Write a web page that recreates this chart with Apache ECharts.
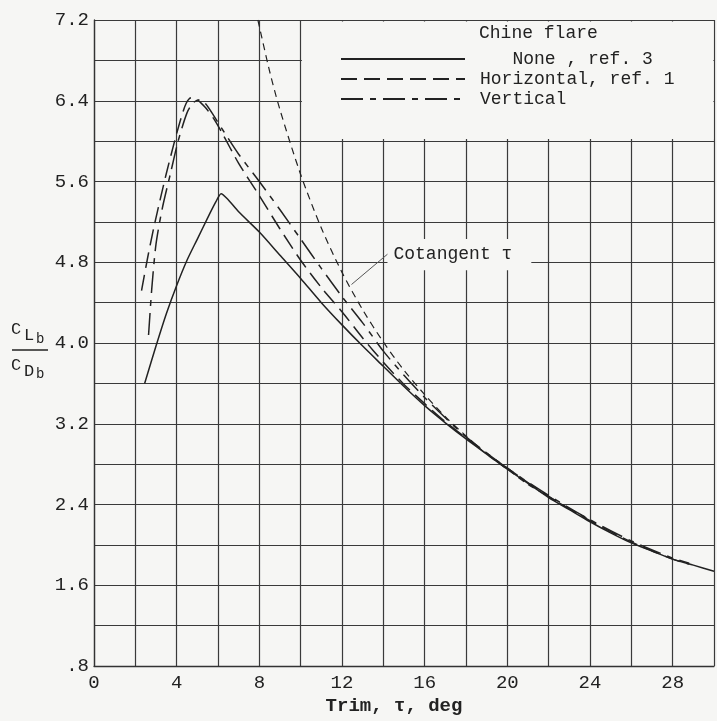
<!DOCTYPE html>
<html>
<head>
<meta charset="utf-8">
<script src="https://cdn.jsdelivr.net/npm/echarts@6/dist/echarts.min.js"></script>
<style>
  html, body { margin: 0; padding: 0; background: #f6f6f4; }
  #chart { width: 717px; height: 721px; }
</style>
</head>
<body>
<div id="chart"></div>
<script>
// values, [trim deg, CL/CD]
var noneRef3 = [[2.45,3.6],[3.0,3.97],[3.5,4.29],[4.0,4.57],[4.5,4.82],[5.0,5.03],[5.5,5.24],[5.9,5.4],[6.15,5.48],
  [6.45,5.43],[7,5.3],[8,5.1],[9,4.87],[10,4.64],[11,4.4],[12,4.18],[13,3.97],[14,3.77],[15,3.57],[16,3.38],
  [17,3.21],[18,3.05],[19,2.9],[20,2.75],[21,2.61],[22,2.47],[23,2.35],[24,2.23],[25,2.12],[26,2.02],[27,1.94],
  [28,1.86],[29,1.8],[30,1.74]];
var horizRef1 = [[2.3,4.52],[2.6,4.85],[2.9,5.15],[3.2,5.42],[3.5,5.68],[3.9,6.0],[4.2,6.22],[4.45,6.37],[4.7,6.43],
  [5.0,6.41],[5.4,6.33],[5.8,6.22],[6.2,6.08],[7,5.78],[8,5.46],[9,5.13],[10,4.82],[11,4.55],[12,4.31],[13,4.05],
  [14,3.81],[15,3.59],[16,3.4],[17,3.22],[18,3.06],[20,2.76],[22,2.48],[24,2.24],[26,2.03],[28,1.86],[28.8,1.81]];
var vertical = [[2.64,4.08],[2.8,4.55],[3.0,4.98],[3.3,5.33],[3.7,5.68],[4.07,6.0],[4.5,6.28],[4.8,6.38],[5.1,6.41],
  [5.4,6.37],[5.8,6.25],[6.2,6.12],[7,5.87],[8,5.6],[9,5.32],[10,5.03],[11,4.74],[12,4.46],[13,4.2],[14,3.92],
  [15,3.68],[16,3.46],[17,3.26],[18,3.07],[20,2.76],[22,2.49],[24,2.25],[26,2.04],[28,1.87],[28.8,1.82]];
var cotangent = [[7.93,7.2],[8.5,6.69],[9,6.31],[10,5.67],[11,5.14],[12,4.7],[13,4.33],[14,4.01],[15,3.73],
  [16,3.49],[17,3.27],[18,3.08],[19,2.9],[20,2.75],[21,2.6],[22,2.48],[23,2.36],[24,2.25]];

var names = ['   None , ref. 3', 'Horizontal, ref. 1', 'Vertical'];

var mono = 'Liberation Mono';
var ink = '#222';
var bg = '#f6f6f4';

var chart = echarts.init(document.getElementById('chart'));

var option = {
  backgroundColor: bg,
  animation: false,
  grid: { left: 94, right: 2, top: 20, bottom: 43 },
  title: {
    text: 'Chine flare', left: 479, top: 24, padding: 0,
    textStyle: { fontFamily: mono, fontSize: 18, fontWeight: 'normal', color: ink }
  },
  legend: {
    data: names, orient: 'vertical', left: 340, top: 49,
    itemWidth: 124, itemHeight: 20, itemGap: 0, padding: 0,
    itemStyle: { opacity: 0, borderWidth: 0 },
    textStyle: { fontFamily: mono, fontSize: 18, color: ink, lineHeight: 20, padding: [0, 0, 0, 10] }
  },
  xAxis: {
    type: 'value', min: 0, max: 30, interval: 2,
    name: 'Trim, τ, deg', nameLocation: 'middle', nameGap: 23,
    nameTextStyle: { fontFamily: mono, fontSize: 19, fontWeight: 'bold', color: ink, padding: [0, 20, 0, 0] },
    axisLine: { show: true, lineStyle: { color: '#333', width: 1.3 } },
    axisTick: { show: false },
    axisLabel: {
      margin: 7, fontFamily: mono, fontSize: 19, color: ink,
      formatter: function (v) { return (v % 4 === 0 && v < 30) ? String(v) : ''; }
    },
    splitLine: { show: true, lineStyle: { color: '#3a3a3a', width: 1.2 } }
  },
  yAxis: {
    type: 'value', min: 0.8, max: 7.2, interval: 0.4,
    axisLine: { show: true, lineStyle: { color: '#333', width: 1.3 } },
    axisTick: { show: false },
    axisLabel: {
      margin: 5, fontFamily: mono, fontSize: 19, color: ink,
      formatter: function (v) {
        var t = Math.round(v * 10);
        if (t % 8 !== 0) return '';
        if (t === 8) return '.8';
        return (t / 10).toFixed(1);
      }
    },
    splitLine: { show: true, lineStyle: { color: '#3a3a3a', width: 1.2 } }
  },
  graphic: [
    // CL_b over CD_b
    { type: 'text', left: 11, top: 321, style: { text: 'C', font: '17px ' + mono, fill: ink } },
    { type: 'text', left: 24, top: 327, style: { text: 'L', font: '17px ' + mono, fill: ink } },
    { type: 'text', left: 36, top: 332, style: { text: 'b', font: '14px ' + mono, fill: ink } },
    { type: 'line', shape: { x1: 12, y1: 350, x2: 48, y2: 350 }, style: { stroke: ink, lineWidth: 1.5 } },
    { type: 'text', left: 11, top: 357, style: { text: 'C', font: '17px ' + mono, fill: ink } },
    { type: 'text', left: 24, top: 363, style: { text: 'D', font: '17px ' + mono, fill: ink } },
    { type: 'text', left: 36, top: 367, style: { text: 'b', font: '14px ' + mono, fill: ink } }
  ],
  series: [
    {
      name: names[0], type: 'line', data: noneRef3, symbol: 'none', smooth: 0.25,
      lineStyle: { color: ink, width: 1.5, type: 'solid' }, itemStyle: { color: ink }
    },
    {
      name: names[1], type: 'line', data: horizRef1, symbol: 'none', smooth: 0.25,
      lineStyle: { color: ink, width: 1.5, type: [16, 7] }, itemStyle: { color: ink }
    },
    {
      name: names[2], type: 'line', data: vertical, symbol: 'none', smooth: 0.25,
      lineStyle: { color: ink, width: 1.5, type: [22, 7, 6, 7] }, itemStyle: { color: ink }
    },
    {
      name: 'Cotangent', type: 'line', data: cotangent, symbol: 'none', smooth: 0.3,
      lineStyle: { color: ink, width: 1.2, type: [7, 5] }, itemStyle: { color: ink },
      markArea: {
        silent: true,
        itemStyle: { color: bg, opacity: 1, borderWidth: 0 },
        label: { show: false },
        data: [
          [{ coord: [10.06, 6.02] }, { coord: [29.97, 7.185] }],
          [{ name: 'Cotangent τ', coord: [14.2, 4.72],
             label: { show: true, position: 'insideLeft', distance: 6, fontFamily: mono, fontSize: 18, color: ink } },
           { coord: [21.16, 5.03] }]
        ]
      },
      markLine: {
        silent: true, symbol: ['none', 'none'],
        label: { show: false },
        lineStyle: { color: '#555', width: 1, type: 'solid' },
        data: [[{ coord: [12.46, 4.58] }, { coord: [14.2, 4.88] }]]
      }
    }
  ]
};

chart.setOption(option);
</script>
</body>
</html>
